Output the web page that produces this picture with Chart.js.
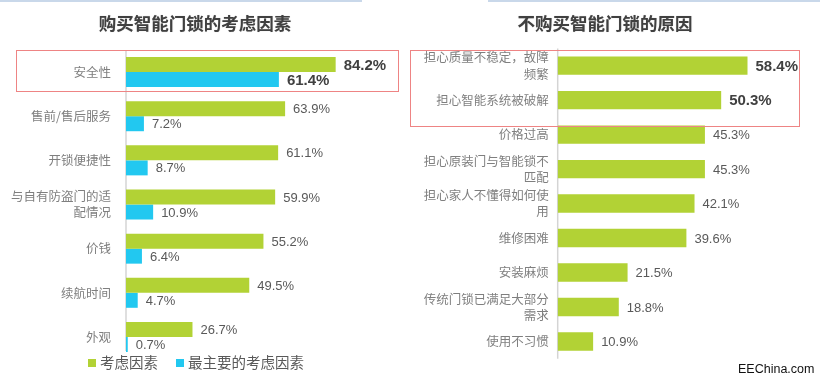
<!DOCTYPE html>
<html>
<head>
<meta charset="utf-8">
<script src="https://cdn.jsdelivr.net/npm/chart.js@4/dist/chart.umd.min.js"></script>
<style>
  body { margin: 0; background: #fff; }
  #wrap { position: relative; width: 820px; height: 384px; overflow: hidden; font-family: "Noto Sans CJK SC", sans-serif; }
  canvas { position: absolute; top: 0; }
  .title { position: absolute; top: 10px; font-size: 17.5px; font-weight: bold; color: #404040; text-align: center; text-shadow: 0 0 1px rgba(0,0,0,0.25); }
  .box { position: absolute; border: 1px solid #ee8484; box-sizing: border-box; }
  .tab { position: absolute; top: 0; height: 2px; background: #c9d8ea; }
  #legend { position: absolute; top: 351px; left: 88px; font-size: 14.5px; color: #595959; white-space: nowrap; }
  #legend span.sw { display: inline-block; width: 8px; height: 8px; margin-right: 4px; vertical-align: 1px; }
  #legend span.item { margin-right: 18px; }
  #mark { position: absolute; left: 738px; top: 362px; font: 12.5px "Liberation Sans", Arial, sans-serif; color: #111; }
</style>
</head>
<body>
<div id="wrap">
  <div class="tab" style="left:0;width:362px"></div>
  <div class="tab" style="left:488px;width:332px"></div>
  <canvas id="leftChart" width="410" height="384" style="left:0"></canvas>
  <canvas id="rightChart" width="410" height="384" style="left:410px"></canvas>
  <div class="title" style="left:0;width:390px">购买智能门锁的考虑因素</div>
  <div class="title" style="left:410px;width:390px">不购买智能门锁的原因</div>
  <div class="box" style="left:16px;top:50px;width:383px;height:42px"></div>
  <div class="box" style="left:410px;top:50px;width:390px;height:77px"></div>
  <div id="legend"></div>
  <div id="mark">EEChina.com</div>
</div>
<script>
// left chart: reasons to buy
const buyFactors = ["安全性", "售前/售后服务", "开锁便捷性", ["与自有防盗门的适", "配情况"], "价钱", "续航时间", "外观"];
const buyConsidered = [84.2, 63.9, 61.1, 59.9, 55.2, 49.5, 26.7];
const buyMain = [61.4, 7.2, 8.7, 10.9, 6.4, 4.7, 0.7];
const buySeries = ["考虑因素", "最主要的考虑因素"];

// right chart: reasons not to buy
const noBuyReasons = [["担心质量不稳定，故障", "频繁"], "担心智能系统被破解", "价格过高", ["担心原装门与智能锁不", "匹配"], ["担心家人不懂得如何使", "用"], "维修困难", "安装麻烦", ["传统门锁已满足大部分", "需求"], "使用不习惯"];
const noBuyValues = [58.4, 50.3, 45.3, 45.3, 42.1, 39.6, 21.5, 18.8, 10.9];

const green = "#b2d235";
const cyan = "#22c8f0";

// draws the percentage next to each bar, bold for the highlighted rows
const valueLabels = {
  id: "valueLabels",
  afterDatasetsDraw(chart, args, opts) {
    const ctx = chart.ctx;
    ctx.save();
    ctx.textBaseline = "middle";
    ctx.textAlign = "left";
    chart.data.datasets.forEach((ds, di) => {
      chart.getDatasetMeta(di).data.forEach((bar, i) => {
        const bold = opts.bold.includes(i);
        ctx.font = bold ? 'bold 15px "Liberation Sans", Arial, sans-serif' : '13px "Liberation Sans", Arial, sans-serif';
        ctx.fillStyle = bold ? "#404040" : "#595959";
        ctx.fillText(ds.data[i].toFixed(1) + "%", bar.x + 8, bar.y + 1);
      });
    });
    ctx.restore();
  }
};

// vertical axis line, can be cut short at the bottom
const axisLine = {
  id: "axisLine",
  beforeDatasetsDraw(chart, args, opts) {
    const a = chart.chartArea;
    const ctx = chart.ctx;
    ctx.save();
    ctx.strokeStyle = "#d4d4d4";
    ctx.lineWidth = 1.5;
    ctx.beginPath();
    ctx.moveTo(a.left, a.top);
    ctx.lineTo(a.left, a.bottom - opts.trim);
    ctx.stroke();
    ctx.restore();
  }
};

function makeOptions(axisWidth, max, padding, tickPad, boldRows, trim) {
  return {
    indexAxis: "y",
    responsive: false,
    animation: false,
    layout: { padding: padding },
    plugins: {
      legend: { display: false },
      tooltip: { enabled: false },
      valueLabels: { bold: boldRows },
      axisLine: { trim: trim }
    },
    scales: {
      x: { display: false, min: 0, max: max },
      y: {
        grid: { display: false, drawTicks: false },
        border: { display: false },
        ticks: {
          padding: tickPad,
          color: "#7f7f7f",
          font: { family: '"Noto Sans CJK SC", sans-serif', size: 12.5, lineHeight: 1.3 }
        },
        afterFit(scale) { scale.width = axisWidth; }
      }
    }
  };
}

new Chart(document.getElementById("leftChart"), {
  type: "bar",
  data: {
    labels: buyFactors,
    datasets: [
      { label: buySeries[0], data: buyConsidered, backgroundColor: green, categoryPercentage: 0.68, barPercentage: 1 },
      { label: buySeries[1], data: buyMain, backgroundColor: cyan, categoryPercentage: 0.68, barPercentage: 1 }
    ]
  },
  options: makeOptions(126, 100, { top: 50, bottom: 25, left: 0, right: 35 }, 15, [0], 8),
  plugins: [valueLabels, axisLine]
});

new Chart(document.getElementById("rightChart"), {
  type: "bar",
  data: {
    labels: noBuyReasons,
    datasets: [
      { label: "不购买原因", data: noBuyValues, backgroundColor: green, categoryPercentage: 0.534, barPercentage: 1 }
    ]
  },
  options: makeOptions(147.7, 80, { top: 48.4, bottom: 15, left: 0, right: 2.3 }, 9, [0, 1], 0),
  plugins: [valueLabels, axisLine]
});

// legend for the left chart
const legend = document.getElementById("legend");
[green, cyan].forEach((c, i) => {
  const item = document.createElement("span");
  item.className = "item";
  item.innerHTML = '<span class="sw" style="background:' + c + '"></span>' + buySeries[i];
  legend.appendChild(item);
});
</script>
</body>
</html>
